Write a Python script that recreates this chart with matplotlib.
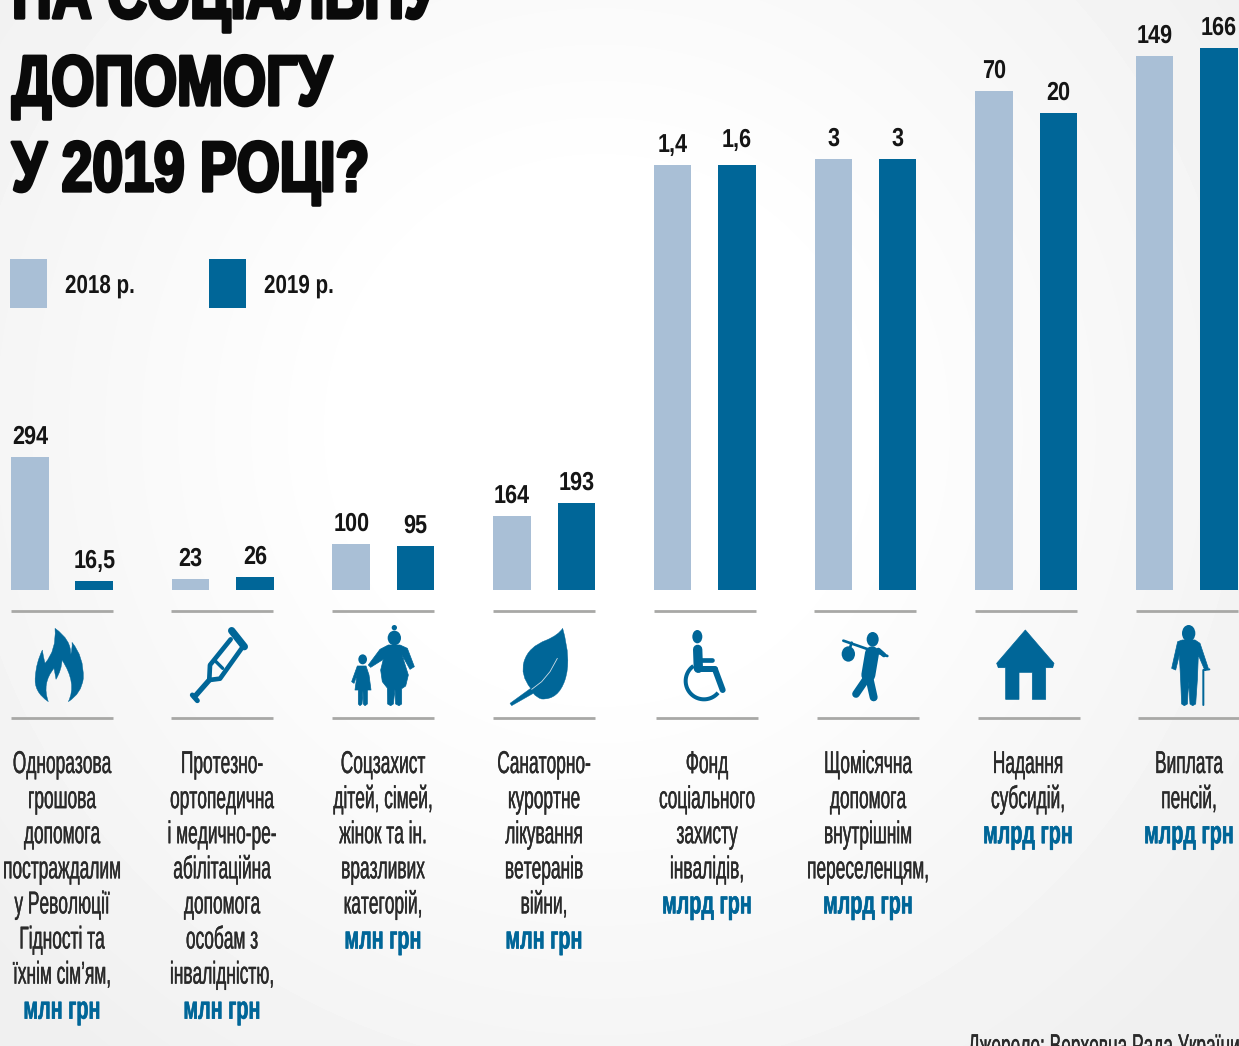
import os
import tempfile
import numpy as np
import matplotlib
matplotlib.use('Agg')
import matplotlib.pyplot as plt
import matplotlib.patheffects as pe
from matplotlib import font_manager as fm
from matplotlib.patches import Rectangle, Polygon, Ellipse, PathPatch
from matplotlib.path import Path
from matplotlib.transforms import offset_copy
from fontTools.ttLib import TTFont

# Each group has its own unit, so bar heights are read off the picture
# separately from the printed labels
heights_2018 = [133, 11, 46, 74, 425, 431, 499, 534]
heights_2019 = [9, 13, 44, 87, 425, 431, 477, 542]
labels_2018 = ['294', '23', '100', '164', '1,4', '3', '70', '149']
labels_2019 = ['16,5', '26', '95', '193', '1,6', '3', '20', '166']
units = ['млн грн', 'млн грн', 'млн грн', 'млн грн', 'млрд грн', 'млрд грн', 'млрд грн', 'млрд грн']
descriptions = [
    ['Одноразова', 'грошова', 'допомога', 'постраждалим', 'у Революції', 'Гідності та', 'їхнім сім’ям,'],
    ['Протезно-', 'ортопедична', 'і медично-ре-', 'абілітаційна', 'допомога', 'особам з', 'інвалідністю,'],
    ['Соцзахист', 'дітей, сімей,', 'жінок та ін.', 'вразливих', 'категорій,'],
    ['Санаторно-', 'курортне', 'лікування', 'ветеранів', 'війни,'],
    ['Фонд', 'соціального', 'захисту', 'інвалідів,'],
    ['Щомісячна', 'допомога', 'внутрішнім', 'переселенцям,'],
    ['Надання', 'субсидій,'],
    ['Виплата', 'пенсій,'],
]
title_lines = ['НА СОЦІАЛЬНУ', 'ДОПОМОГУ', 'У 2019 РОЦІ?']
legend_labels = ['2018 р.', '2019 р.']
source = 'Джерело: Верховна Рада України'

LIGHT = '#a9bfd6'
DARK = '#006698'
INK = '#151515'
BODY = '#2a2a2a'
RULE = '#a8a8a6'

W, H = 1239, 1046
plt.rcParams['text.hinting'] = 'none'


# No condensed face is installed, so build narrower copies of Liberation Sans
def narrow_font(weight, sx):
    src = fm.findfont(fm.FontProperties(family='Liberation Sans', weight=weight))
    f = TTFont(src)
    glyf, hmtx = f['glyf'], f['hmtx']
    for name in glyf.keys():
        g = glyf[name]
        g.removeHinting()
        if g.isComposite():
            for comp in g.components:
                comp.x = round(comp.x * sx)
        elif g.numberOfContours > 0:
            g.coordinates.scale((sx, 1))
            g.coordinates.toInt()
        adv, lsb = hmtx[name]
        hmtx[name] = (round(adv * sx), round(lsb * sx))
    for tag in ['kern', 'GPOS', 'GSUB', 'fpgm', 'prep', 'cvt ', 'hdmx', 'VDMX', 'LTSH']:
        if tag in f:
            del f[tag]
    out = os.path.join(tempfile.mkdtemp(), f'narrow_{weight}_{int(sx * 100)}.ttf')
    f.save(out)
    return fm.FontProperties(fname=out)


def sized(fp, size):
    p = fp.copy()
    p.set_size(size)
    return p


def thick(width, col):
    return [pe.withStroke(linewidth=width, foreground=col)]


body_fp = narrow_font('normal', 0.55)
unit_fp = narrow_font('bold', 0.62)
value_fp = narrow_font('bold', 0.82)
legend_fp = narrow_font('bold', 0.80)
title_fp = narrow_font('bold', 0.78)

fig = plt.figure(figsize=(W / 100, H / 100), dpi=100)

# pixel axes for background, text and icons
px = fig.add_axes([0, 0, 1, 1])
yy, xx = np.mgrid[0:H, 0:W]
dist = np.hypot((xx - 600) / 800, (yy - 430) / 800)
shade = 1 - 0.06 * np.clip((dist - 0.3) / 0.7, 0, 1)
px.imshow(shade, cmap='gray', vmin=0, vmax=1, extent=[0, W, H, 0], aspect='auto', zorder=0)
px.set_xlim(0, W)
px.set_ylim(H, 0)
px.axis('off')

# bars axes: x in group numbers, y in pixels above the baseline
CENTER0, STEP, BASE = 62, 160.7, 590
ax = fig.add_axes([0, 0, 1, 1], facecolor='none')
ax.set_xlim(-CENTER0 / STEP, (W - CENTER0) / STEP)
ax.set_ylim(BASE - H, BASE)
ax.axis('off')

x = np.arange(len(heights_2018))
off = 32.2 / STEP
bw = 37.5 / STEP
ax.bar(x - off, heights_2018, bw, color=LIGHT)
ax.bar(x + off, heights_2019, bw, color=DARK)

value_style = dict(fontproperties=sized(value_fp, 19), color=INK, ha='center', va='baseline')
raised = offset_copy(ax.transData, fig, x=0, y=9.4, units='points')
raised_more = offset_copy(ax.transData, fig, x=0, y=13, units='points')
for i in x:
    ax.text(i - off, heights_2018[i], labels_2018[i], transform=raised, **value_style)
    tr = raised_more if labels_2019[i] == '1,6' else raised
    ax.text(i + off, heights_2019[i], labels_2019[i], transform=tr, **value_style)

# title, clipped by the top of the picture
for line, base in zip(title_lines, [18, 105, 191]):
    px.text(12, base, line, fontproperties=sized(title_fp, 51), color='#0a0a0a', ha='left', va='baseline',
            path_effects=thick(2.4, '#0a0a0a'))

# legend
for x0, col, lab in zip([10, 209], [LIGHT, DARK], legend_labels):
    px.add_patch(Rectangle((x0, 259), 37, 49, color=col, lw=0, zorder=2))
    px.text(x0 + 55, 293, lab, fontproperties=sized(legend_fp, 18.5), color=INK, ha='left', va='baseline')

# rules above and below the icons
upper_x = [11, 171, 332, 493, 654, 814, 975, 1136]
lower_x = [11, 171, 332, 493, 656, 817, 978, 1138]
for a, b in zip(upper_x, lower_x):
    px.plot([a, a + 102], [610.5, 610.5], color=RULE, lw=2, solid_capstyle='butt')
    px.plot([b, b + 102], [718, 718], color=RULE, lw=2, solid_capstyle='butt')

# descriptions under the icons
text_x = [62, 222, 383, 544, 707, 868, 1028, 1189]
for cx, lines, unit in zip(text_x, descriptions, units):
    for j, line in enumerate(lines):
        px.text(cx, 773 + 35.1 * j, line, fontproperties=sized(body_fp, 22.7), color=BODY,
                ha='center', va='baseline', path_effects=thick(0.25, BODY))
    px.text(cx, 773 + 35.1 * len(lines), unit, fontproperties=sized(unit_fp, 23), color=DARK,
            ha='center', va='baseline', path_effects=thick(0.4, DARK))

px.text(968, 1056, source, fontproperties=sized(body_fp, 22.7), color=BODY, ha='left', va='baseline',
        path_effects=thick(0.25, BODY))


# icons, outlines in the coordinates of a 3x crop
def to_px(pts, ox):
    pts = np.asarray(pts, dtype=float)
    return np.column_stack([ox + pts[:, 0] / 3, 600 + pts[:, 1] / 3])


def shape(pts, ox):
    px.add_patch(Polygon(to_px(pts, ox), closed=True, fc=DARK, ec=DARK, lw=0.5, joinstyle='round', zorder=3))


def curve(verts, codes, ox, fc=DARK):
    px.add_patch(PathPatch(Path(to_px(verts, ox), codes), fc=fc, ec=fc, lw=0.3, zorder=3))


def stroke(pts, ox, width, col=DARK, cap='round'):
    p = to_px(pts, ox)
    px.plot(p[:, 0], p[:, 1], color=col, lw=width * 0.24, solid_capstyle=cap,
            solid_joinstyle='round', zorder=3)


def head(cx, cy, rx, ry, ox):
    c = to_px([(cx, cy)], ox)[0]
    px.add_patch(Ellipse(c, 2 * rx / 3, 2 * ry / 3, fc=DARK, ec='none', zorder=3))


M, L, C3, Z = Path.MOVETO, Path.LINETO, Path.CURVE3, Path.CLOSEPOLY

# flame
curve([(145, 305), (100, 275), (106, 230), (108, 190), (127, 150), (130, 170), (135, 190),
       (170, 150), (165, 85), (215, 120), (212, 165), (218, 145), (216, 127), (252, 170), (250, 235),
       (245, 280), (205, 305), (232, 250), (186, 180), (185, 210), (168, 238), (165, 220), (162, 205),
       (125, 250), (145, 305), (145, 305)],
      [M] + [C3] * 24 + [Z], 0)

# crutch
stroke([(695, 92), (733, 140)], 0, 22)
stroke([(692, 118), (630, 195), (628, 236)], 0, 14)
stroke([(725, 145), (660, 236), (628, 240)], 0, 14)
stroke([(645, 182), (668, 205)], 0, 10)
stroke([(628, 240), (584, 290)], 0, 16)
stroke([(577, 285), (592, 302)], 0, 15)

# woman and child
head(1183, 114, 20, 22, 0)
head(1183, 83, 8, 8, 0)
shape([(1165, 135), (1200, 135), (1222, 145), (1243, 200), (1230, 208), (1206, 165), (1225, 225), (1217, 258),
       (1205, 266), (1205, 312), (1197, 317), (1187, 312), (1185, 268), (1180, 312), (1172, 317), (1163, 312),
       (1162, 264), (1147, 245), (1142, 210), (1150, 178), (1112, 202), (1105, 195), (1140, 148)], 0)
head(1088, 178, 13, 15, 0)
shape([(1072, 198), (1098, 198), (1107, 225), (1113, 270), (1102, 270), (1102, 312), (1095, 317), (1090, 312),
       (1089, 272), (1086, 312), (1080, 317), (1075, 312), (1075, 270), (1065, 270), (1071, 225), (1062, 250),
       (1055, 245)], 0)

# leaf
curve([(248, 85), (275, 180), (255, 240), (235, 300), (185, 297), (170, 293), (160, 280), (125, 300), (95, 317),
       (90, 310), (152, 265), (120, 225), (132, 185), (145, 140), (200, 120), (235, 105), (248, 85), (248, 85)],
      [M, C3, C3, C3, C3, C3, C3, C3, C3, L, L, C3, C3, C3, C3, C3, C3, Z], 480)
stroke([(155, 268), (185, 245), (210, 215), (232, 175)], 480, 2.5, col='#cfdde6')

# wheelchair
head(652, 110, 15, 20, 480)
stroke([(653, 148), (655, 205)], 480, 28)
stroke([(655, 208), (705, 208)], 480, 18)
stroke([(705, 208), (728, 270)], 480, 18)
stroke([(655, 180), (695, 180)], 480, 14)
ang = np.radians(np.arange(40, 236, 5))
stroke(np.column_stack([672 + 55 * np.cos(ang), 243 + 55 * np.sin(ang)]), 480, 12, cap='butt')

# person with a bundle
head(1178, 118, 18, 22, 480)
stroke([(1090, 122), (1222, 168)], 480, 8)
head(1105, 162, 20, 23, 480)
stroke([(1115, 128), (1108, 150)], 480, 8)
stroke([(1176, 160), (1165, 225)], 480, 42)
stroke([(1195, 150), (1212, 165)], 480, 14)
stroke([(1158, 238), (1128, 282)], 480, 23)
stroke([(1166, 225), (1181, 292)], 480, 24)

# house
shape([(226, 90), (312, 190), (308, 203), (287, 203), (287, 298), (247, 298), (247, 217), (207, 217), (207, 298),
       (167, 298), (167, 203), (145, 203), (140, 190)], 950)

# elderly person with a cane
head(716, 100, 20, 25, 950)
shape([(697, 120), (735, 120), (750, 130), (775, 205), (765, 212), (745, 165), (742, 240), (737, 312), (728, 317),
       (720, 312), (716, 245), (712, 312), (703, 317), (695, 312), (692, 240), (688, 165), (677, 210), (665, 205),
       (683, 125)], 950)
stroke([(760, 315), (760, 210), (778, 208)], 950, 6)

fig.savefig('out.png', dpi=100)
plt.close(fig)
